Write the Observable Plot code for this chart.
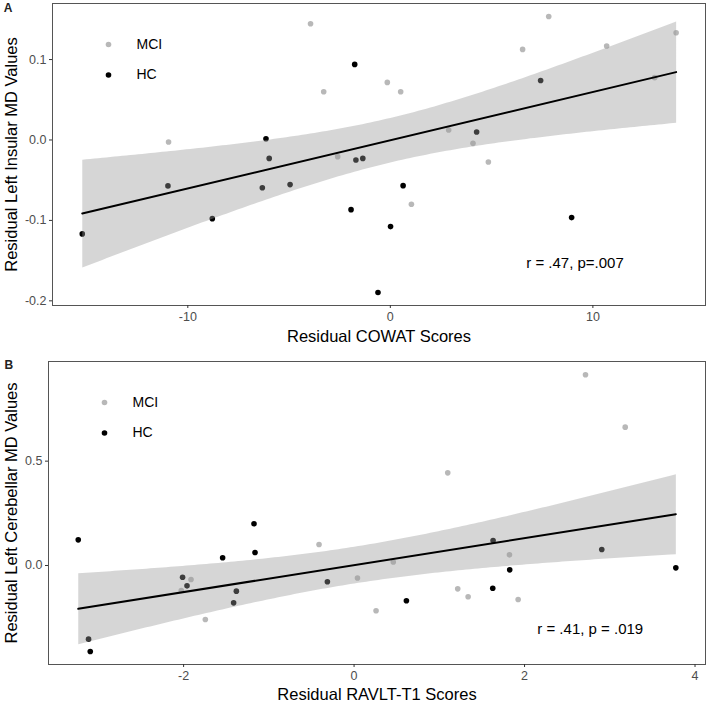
<!DOCTYPE html>
<html>
<head>
<meta charset="utf-8">
<script src="https://cdn.jsdelivr.net/npm/d3@7"></script>
<script src="https://cdn.jsdelivr.net/npm/@observablehq/plot@0.6"></script>
<style>
  html, body { margin: 0; padding: 0; background: #fff; }
  #chart { width: 708px; }
  #chart svg { display: block; }
</style>
</head>
<body>
<div id="chart"></div>
<script>
// ---------- Panel A: COWAT vs Left Insular MD ----------
const groups = ["MCI", "HC"];
const groupColors = ["#b8b8b8", "#000000"];

const mciA_x = [-3.94, -3.29, -10.95, -2.60, 7.82, 6.53, 10.68, 14.11, -0.15, 0.51, 13.05, 2.88, 4.08, 4.84, 1.04];
const mciA_y = [0.1445, 0.060, -0.0025, -0.0207, 0.1536, 0.1126, 0.1168, 0.1333, 0.0716, 0.060, 0.0775, 0.0124, -0.0042, -0.0273, -0.080];
const hcA_x = [-1.76, -6.14, -5.98, -1.70, -10.98, -6.32, -4.95, -8.79, -15.21, -1.94, 7.42, 4.26, -1.36, 0.63, 0.01, 8.95, -0.61];
const hcA_y = [0.094, 0.0016, -0.0229, -0.0249, -0.0571, -0.0593, -0.0555, -0.0978, -0.1168, -0.0866, 0.074, 0.0099, -0.0229, -0.0568, -0.1077, -0.0965, -0.1897];
const ticksA_x = [-10, 0, 10];
const ticksA_y = [-0.2, -0.1, 0.0, 0.1];

// ---------- Panel B: RAVLT-T1 vs Left Cerebellar MD ----------
const mciB_x = [-0.411, -1.913, -2.027, -1.745, 0.040, 2.715, 3.181, 1.099, 1.823, 0.460, 1.216, 1.338, 1.925, 0.258];
const mciB_y = [0.1006, -0.067, -0.12, -0.259, -0.060, 0.914, 0.663, 0.444, 0.0511, 0.017, -0.112, -0.150, -0.163, -0.217];
const hcB_x = [-3.236, -1.174, -1.162, -1.542, -2.012, -1.960, -1.381, -1.413, -0.313, -3.115, -3.095, 1.631, 2.906, 1.826, 3.775, 1.627, 0.614];
const hcB_y = [0.123, 0.200, 0.0623, 0.0369, -0.056, -0.0975, -0.123, -0.179, -0.078, -0.353, -0.412, 0.120, 0.0767, -0.0208, -0.0112, -0.109, -0.169];
const ticksB_x = [-2, 0, 2, 4];
const ticksB_y = [0.0, 0.5];

function rows(mx, my, hx, hy) {
  return [
    ...mx.map((x, i) => ({x, y: my[i], group: "MCI"})),
    ...hx.map((x, i) => ({x, y: hy[i], group: "HC"}))
  ];
}

const FONT = "'Liberation Sans', Arial, Helvetica, sans-serif";

function panel(cfg) {
  const data = rows(cfg.mx, cfg.my, cfg.hx, cfg.hy);
  const legendMarks = groups.flatMap((g, i) => [
    Plot.dot([g], {frameAnchor: "top-left", dx: 56, dy: 41 + i * 30.5, r: 2.8, fill: groupColors[i]}),
    Plot.text([g], {frameAnchor: "top-left", dx: 84, dy: 41 + i * 30.5, text: d => d, textAnchor: "start", lineAnchor: "middle", fontSize: 14, fill: "#000"})
  ]);
  return Plot.plot({
    width: 708,
    height: cfg.height,
    marginTop: cfg.mt,
    marginBottom: cfg.mb,
    marginLeft: cfg.ml,
    marginRight: 3,
    style: {fontFamily: FONT, background: "#fff"},
    x: {domain: cfg.xdom},
    y: {domain: cfg.ydom},
    color: {domain: groups, range: groupColors},
    marks: [
      Plot.dot(data, {x: "x", y: "y", fill: "group", r: 2.8}),
      Plot.linearRegressionY(data, {x: "x", y: "y", ci: 0.95, stroke: "#000", strokeWidth: 2, fill: "#999999", fillOpacity: 0.4}),
      Plot.frame({stroke: "#555", strokeWidth: 1}),
      Plot.axisX(cfg.xt, {tickSize: 3, tickPadding: 4, fontSize: 12.5, color: "#4d4d4d", stroke: "#333", label: null, tickFormat: d => String(d)}),
      Plot.axisY(cfg.yt, {tickSize: 3, tickPadding: 3, fontSize: 12.5, color: "#4d4d4d", stroke: "#333", label: null, tickFormat: d => d.toFixed(1)}),
      Plot.text([cfg.xlabel], {frameAnchor: "bottom", dy: cfg.xlabDy, text: d => d, textAnchor: "middle", lineAnchor: "middle", fontSize: 16.5, fill: "#000"}),
      Plot.text([cfg.ylabel], {frameAnchor: "left", dx: cfg.ylabDx, rotate: -90, text: d => d, textAnchor: "middle", lineAnchor: "middle", fontSize: 16.5, fill: "#000"}),
      Plot.text([cfg.tag], {frameAnchor: "top-left", dx: cfg.tagDx, dy: cfg.tagDy, text: d => d, textAnchor: "middle", lineAnchor: "middle", fontSize: 12, fontWeight: "bold", fill: "#222"}),
      Plot.text([cfg.stat], {frameAnchor: "bottom-right", dx: cfg.statDx, dy: cfg.statDy, text: d => d, textAnchor: "end", lineAnchor: "middle", fontSize: 15, fill: "#000"}),
      ...legendMarks
    ]
  });
}

const chart = document.getElementById("chart");
chart.append(panel({
  mx: mciA_x, my: mciA_y, hx: hcA_x, hy: hcA_y,
  height: 345, mt: 3, mb: 40, ml: 52,
  xdom: [-16.68, 15.56], ydom: [-0.2058, 0.1697],
  xt: ticksA_x, yt: ticksA_y,
  xlabel: "Residual COWAT Scores", xlabDy: 31,
  ylabel: "Residual Left Insular MD Values", ylabDx: -41,
  tag: "A", tagDx: -44.5, tagDy: 4.5,
  stat: "r = .47, p=.007", statDx: -81.7, statDy: -42.5
}));
chart.append(panel({
  mx: mciB_x, my: mciB_y, hx: hcB_x, hy: hcB_y,
  height: 358, mt: 16, mb: 39, ml: 48,
  xdom: [-3.585, 4.123], ydom: [-0.4744, 0.9775],
  xt: ticksB_x, yt: ticksB_y,
  xlabel: "Residual RAVLT-T1 Scores", xlabDy: 30,
  ylabel: "Residual Left Cerebellar MD Values", ylabDx: -37,
  tag: "B", tagDx: -39.7, tagDy: 4,
  stat: "r = .41, p = .019", statDx: -62.3, statDy: -35.7
}));
</script>
</body>
</html>
